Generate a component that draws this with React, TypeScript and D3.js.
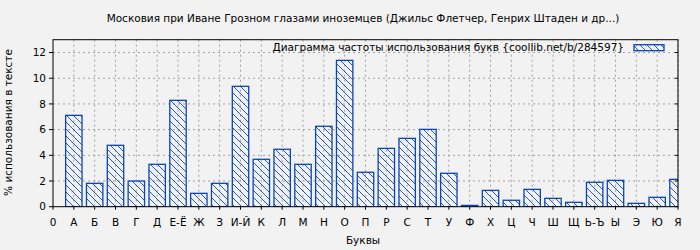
import React from "react";
import * as d3 from "d3";

const categories = ["0","А","Б","В","Г","Д","Е-Ё","Ж","З","И-Й","К","Л","М","Н","О","П","Р","С","Т","У","Ф","Х","Ц","Ч","Ш","Щ","Ь-Ъ","Ы","Э","Ю","Я"];
const barLetters = categories.slice(1);
const values = [7.11,1.82,4.78,2.0,3.3,8.28,1.04,1.82,9.37,3.69,4.47,3.3,6.26,11.39,2.68,4.54,5.32,6.02,2.6,0.1,1.27,0.5,1.35,0.65,0.34,1.9,2.05,0.26,0.73,2.13];
const yTicks = [0,2,4,6,8,10,12];

const title = "Московия при Иване Грозном глазами иноземцев (Джильс Флетчер, Генрих Штаден и др...)";
const legendText = "Диаграмма частоты использования букв {coollib.net/b/284597}";

export default function App() {
  const W = 700, H = 250;
  const L = 53, R = 678, T = 39.7, B = 206.7;
  const x = d3.scalePoint<string>().domain(categories).range([L, R]).padding(0);
  const y = d3.scaleLinear().domain([0, 13]).range([B, T]);
  const bw = 16.4;
  const blue = "#0a45b8";
  const font = "'DejaVu Sans', sans-serif";
  return (
    <svg width={W} height={H} style={{ position: "absolute", left: 0, top: 0, background: "#f2f2f2" }} fontFamily={font}>
      <defs>
        <pattern id="hatch" patternUnits="userSpaceOnUse" width={7} height={7}>
          <line x1={0} y1={0} x2={7} y2={7} stroke={blue} strokeWidth={0.9} />
          <line x1={-1} y1={6} x2={1} y2={8} stroke={blue} strokeWidth={0.9} />
          <line x1={6} y1={-1} x2={8} y2={1} stroke={blue} strokeWidth={0.9} />
        </pattern>
        <clipPath id="plotclip">
          <rect x={L} y={T} width={R - L} height={B - T} />
        </clipPath>
      </defs>
      <rect width={W} height={H} fill="#f2f2f2" />
      {/* grid */}
      {yTicks.filter(t => t > 0).map(t => (
        <line key={"gy" + t} x1={L} x2={R} y1={y(t)} y2={y(t)} stroke="#a0a0a0" strokeDasharray="2,3" strokeWidth={1} />
      ))}
      {barLetters.map(c => (
        <line key={"gx" + c} x1={x(c)} x2={x(c)} y1={T} y2={B} stroke="#a0a0a0" strokeDasharray="2,3" strokeWidth={1} />
      ))}
      {/* bars */}
      <g clipPath="url(#plotclip)">
        {barLetters.map((c, i) => (
          <rect key={c} x={(x(c) as number) - bw / 2} y={y(values[i])} width={bw} height={y(0) - y(values[i])}
            fill="url(#hatch)" stroke={blue} strokeWidth={1.3} />
        ))}
      </g>
      {/* frame */}
      <rect x={L} y={T} width={R - L} height={B - T} fill="none" stroke="#000" strokeWidth={1} />
      {/* y ticks */}
      {yTicks.map(t => (
        <g key={"yt" + t}>
          <line x1={L - 4} x2={L} y1={y(t)} y2={y(t)} stroke="#000" />
          <line x1={R - 3} x2={R} y1={y(t)} y2={y(t)} stroke="#000" />
          <text x={L - 7} y={y(t)} dy="0.35em" textAnchor="end" fontSize={10.5} fill="#000">{t}</text>
        </g>
      ))}
      {/* x ticks */}
      {categories.map(c => (
        <g key={"xt" + c}>
          <line x1={x(c)} x2={x(c)} y1={B} y2={B + 3} stroke="#000" />
          <text x={x(c)} y={226} textAnchor="middle" fontSize={10.5} fill="#000">{c}</text>
        </g>
      ))}
      {/* title */}
      <text x={363} y={22} textAnchor="middle" fontSize={10.5} fill="#000">{title}</text>
      {/* legend */}
      <text x={624} y={50.5} textAnchor="end" fontSize={10.5} fill="#000">{legendText}</text>
      <rect x={634} y={44.7} width={30} height={6} fill="url(#hatch)" stroke={blue} strokeWidth={1.3} />
      {/* axis labels */}
      <text x={363} y={244} textAnchor="middle" fontSize={10.5} fill="#000">Буквы</text>
      <text transform={`translate(12,${122.5}) rotate(-90)`} textAnchor="middle" fontSize={10.5} fill="#000">% использования в тексте</text>
    </svg>
  );
}
